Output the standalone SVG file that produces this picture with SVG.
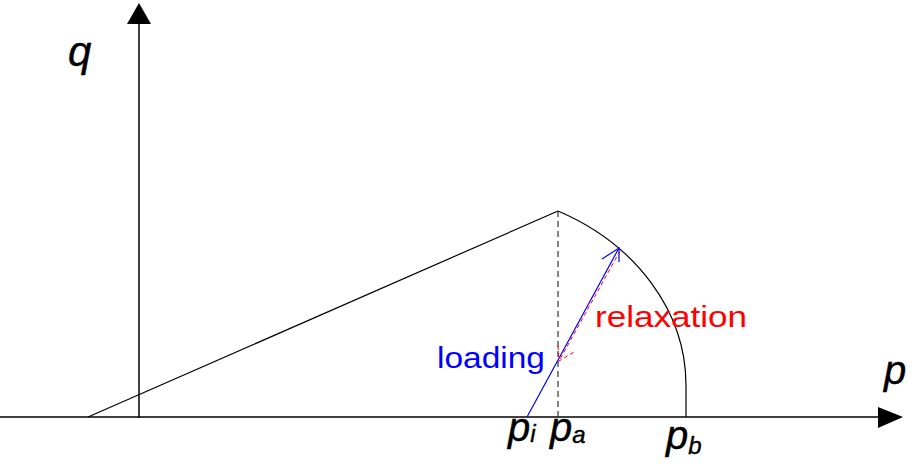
<svg xmlns="http://www.w3.org/2000/svg" width="914" height="465" viewBox="0 0 914 465">
<style>
.ax{stroke:#000;stroke-width:1.5;fill:none}
.ln{stroke:#000;stroke-width:1.2;fill:none}
.lab{font-family:"Liberation Sans",Arial,sans-serif;font-style:italic;fill:#000;stroke:#000;stroke-width:0.4}
</style>
<rect width="914" height="465" fill="#fff"/>
<g id="axes">
<line class="ax" x1="0" y1="417" x2="880" y2="417"/>
<polygon points="878,407 903,417 878,428" fill="#000"/>
<line class="ax" x1="139" y1="418" x2="139" y2="22"/>
<polygon points="127,24 139,3 151,24" fill="#000"/>
<text class="lab" x="68" y="66" font-size="42">q</text>
<text class="lab" x="884" y="384" font-size="40">p</text>
</g>
<g id="yield-surface">
<line class="ln" x1="88" y1="417" x2="558" y2="211"/>
<path class="ln" d="M558,211 A236,196 0 0 1 686,385 L686,417"/>
<line x1="558" y1="211" x2="558" y2="417" stroke="#333" stroke-width="1.2" stroke-dasharray="6,4"/>
</g>
<g id="connectors">
<g id="loading-arrow" stroke="#0000ff" stroke-width="1.2" fill="none">
<line x1="527" y1="417" x2="619" y2="248"/>
<polyline points="602,259 619,248 619,262"/>
</g>
<g id="relaxation-arrow" stroke="#ff0000" stroke-width="1" fill="none" stroke-dasharray="4,3">
<line x1="620" y1="251" x2="559" y2="361"/>
<polyline points="558,346 559,361 574,352"/>
</g>
</g>
<g id="labels">
<text x="437" y="368" font-family="Liberation Sans,Arial,sans-serif" font-size="30" fill="#0000ff" textLength="108" lengthAdjust="spacingAndGlyphs">loading</text>
<text x="595" y="327" font-family="Liberation Sans,Arial,sans-serif" font-size="30" fill="#ff0000" textLength="152" lengthAdjust="spacingAndGlyphs">relaxation</text>
<text class="lab" x="508" y="441" font-size="40">p<tspan font-size="24" dy="1">i</tspan></text>
<text class="lab" x="550" y="441" font-size="40">p<tspan font-size="24" dy="2">a</tspan></text>
<text class="lab" x="666" y="449" font-size="40">p<tspan font-size="24" dy="5">b</tspan></text>
</g>
</svg>
